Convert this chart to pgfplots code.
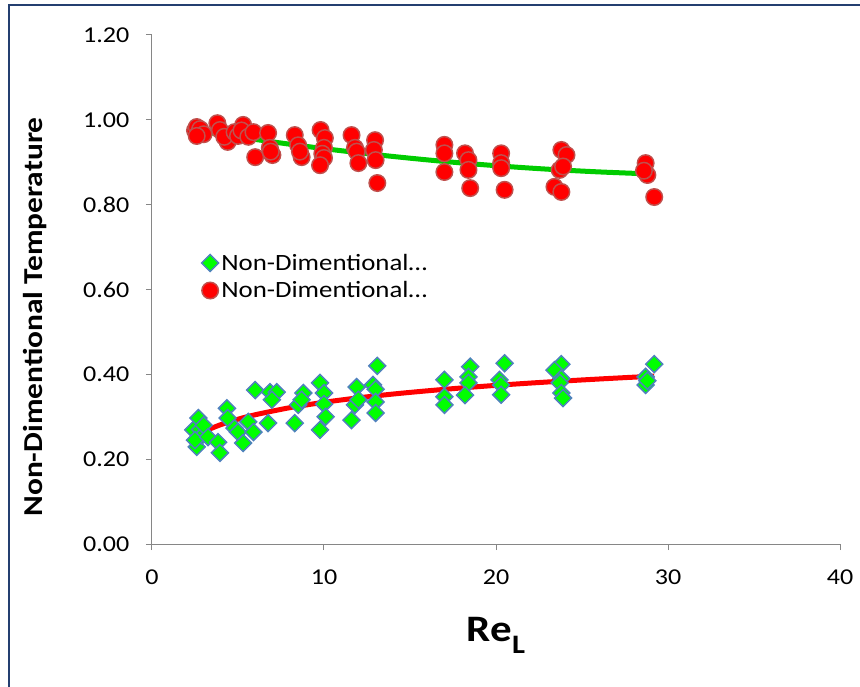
\documentclass[border=0pt]{standalone}
\usepackage{fontspec}
\setmainfont{Carlito}[FakeStretch=1.15]
\usepackage{pgfplots}
\pgfplotsset{compat=1.18}
\usepackage{pgfplotstable}

\definecolor{axisgray}{HTML}{868686}
\definecolor{framecol}{HTML}{243F70}
\definecolor{dfill}{HTML}{00FF00}
\definecolor{dedge}{HTML}{4F81BD}
\definecolor{cfill}{HTML}{FF0000}
\definecolor{cedge}{HTML}{C0504D}
\definecolor{fitgreen}{HTML}{00CC00}
\definecolor{fitred}{HTML}{FF0000}

% lower group: measured points
\pgfplotstableread{
x y
2.4 0.269
2.7 0.297
2.6 0.229
2.8 0.270
2.9 0.255
2.5 0.245
3.0 0.280
3.26 0.252
3.84 0.240
3.95 0.215
4.36 0.320
4.4 0.297
4.8 0.273
5.0 0.264
5.3 0.238
5.6 0.288
5.9 0.264
6.0 0.363
6.75 0.285
6.86 0.358
7.25 0.358
6.97 0.340
8.3 0.285
8.5 0.328
8.8 0.356
8.7 0.340
9.77 0.269
9.77 0.380
10.0 0.356
10.0 0.330
10.1 0.300
11.6 0.292
11.9 0.370
11.8 0.328
12.0 0.340
13.1 0.420
12.85 0.375
13.0 0.365
13.0 0.335
13.0 0.309
17.0 0.387
17.0 0.347
17.0 0.328
18.5 0.418
18.4 0.394
18.4 0.380
18.2 0.351
20.5 0.426
20.2 0.387
20.3 0.375
20.3 0.352
23.8 0.424
23.4 0.410
23.8 0.390
23.7 0.380
23.8 0.356
23.9 0.344
28.7 0.394
28.7 0.375
28.8 0.385
29.2 0.424
}\lowdata

% upper group: measured points
\pgfplotstableread{
x y
2.5 0.975
2.6 0.983
2.7 0.968
2.8 0.978
3.0 0.966
2.6 0.962
3.8 0.992
3.95 0.976
4.4 0.948
4.2 0.960
4.8 0.971
5.0 0.962
5.3 0.988
5.2 0.975
5.6 0.960
5.9 0.971
6.0 0.912
6.75 0.969
6.85 0.934
7.0 0.917
6.9 0.925
8.3 0.964
8.5 0.940
8.7 0.912
8.6 0.925
9.8 0.976
10.05 0.957
10.0 0.934
9.9 0.920
10.0 0.910
9.77 0.893
11.6 0.964
11.8 0.934
11.9 0.925
12.0 0.898
12.97 0.952
12.9 0.929
13.0 0.905
13.1 0.851
17.0 0.941
17.0 0.921
17.0 0.877
18.2 0.921
18.4 0.905
18.4 0.882
18.5 0.839
20.3 0.921
20.3 0.898
20.3 0.886
20.5 0.835
23.8 0.929
24.1 0.917
23.7 0.882
23.9 0.890
23.4 0.842
23.8 0.830
28.7 0.898
28.8 0.870
28.6 0.880
29.2 0.818
}\highdata

% trend line through the lower group
\pgfplotstableread{
x y
2.5 0.2544
3 0.2649
4 0.2814
5 0.2942
6 0.3047
8 0.3213
10 0.3341
12 0.3446
14 0.3535
16 0.3611
18 0.3679
20 0.3740
22 0.3794
24 0.3844
26 0.3890
28 0.3933
29.2 0.3957
}\lowfit

% trend line through the upper group
\pgfplotstableread{
x y
2.5 0.9753
4 0.9658
6 0.9538
8 0.9426
10 0.9321
12 0.9225
14 0.9137
16 0.9056
18 0.8983
20 0.8919
22 0.8862
24 0.8813
26 0.8772
28 0.8739
29.2 0.8722
}\highfit

\begin{document}
\begin{tikzpicture}
\path[use as bounding box] (-114pt,-106.5pt) rectangle (531pt,408pt);
\draw[framecol, line width=1.5pt] (-107.25pt,404.25pt) rectangle (560pt,-130pt);
\begin{axis}[
  at={(0pt,0pt)}, anchor=south west,
  scale only axis, width=516pt, height=381.75pt,
  xmin=0, xmax=40, ymin=0, ymax=1.2,
  axis lines=left,
  axis line style={draw=axisgray, line width=0.75pt, -},
  tick align=outside,
  major tick length=4.5pt,
  tick style={draw=axisgray, line width=0.75pt},
  xtick={0,10,20,30,40},
  ytick={0,0.2,0.4,0.6,0.8,1.0,1.2},
  minor tick num=0,
  /pgf/number format/assume math mode=true,
  ticklabel style={font=\fontsize{17}{20}\selectfont, text=black},
  xticklabel style={yshift=-11pt},
  yticklabel style={xshift=-9pt, /pgf/number format/.cd, fixed, fixed zerofill, precision=2},
  xlabel={\textbf{Re\raisebox{-0.3em}{\fontsize{20}{20}\selectfont L}}},
  xlabel style={font=\fontsize{28}{32}\selectfont, at={(axis description cs:0.5,-0.1925)}, anchor=base},
  ylabel={\textbf{Non-Dimentional Temperature}},
  ylabel style={font=\fontsize{20.5}{24}\selectfont, at={(axis description cs:-0.17,0.446)}, anchor=center, rotate=0},
  legend style={at={(axis description cs:0.066,0.581)}, anchor=north west, draw=none, fill=none,
    font=\fontsize{17.5}{20}\selectfont, row sep=3pt, cells={anchor=west}},
  legend cell align=left,
  clip=false,
]
\addplot[only marks, mark=square*, mark size=4.5pt,
  mark options={rotate=45, fill=dfill, draw=dedge, line width=1.1pt}] table[x=x,y=y] {\lowdata};
\addlegendentry{Non-Dimentional…}
\addplot[only marks, mark=*, mark size=6.2pt,
  mark options={fill=cfill, draw=cedge, line width=1.1pt}] table[x=x,y=y] {\highdata};
\addlegendentry{Non-Dimentional…}
\addplot[forget plot, smooth, no marks, draw=fitgreen, line width=3.75pt] table[x=x,y=y] {\highfit};
\addplot[forget plot, smooth, no marks, draw=fitred, line width=3.75pt] table[x=x,y=y] {\lowfit};
\end{axis}
\end{tikzpicture}
\end{document}
